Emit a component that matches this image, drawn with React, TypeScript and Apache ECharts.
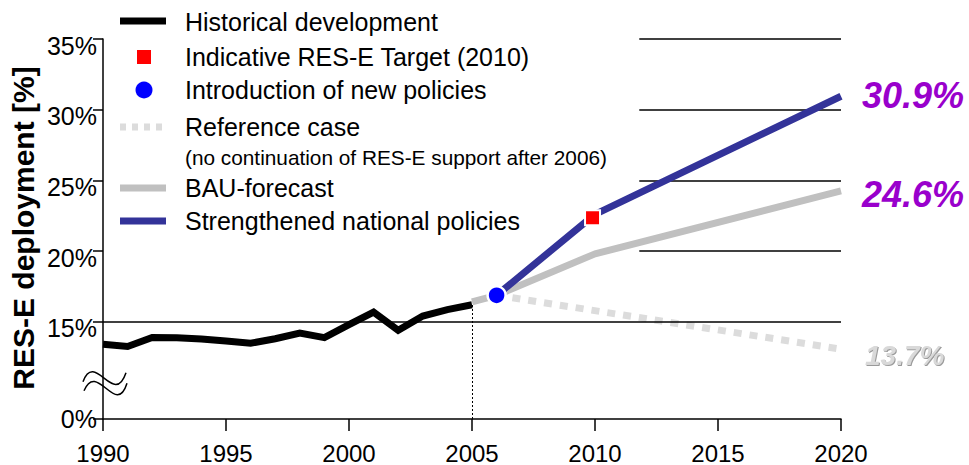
import React, { useEffect, useRef } from "react";
import * as echarts from "echarts";

// y value that sits at the bottom of the (broken) axis and is labelled "0%"
const Y_BREAK_BOTTOM = 8.12;

const histYears = [1990, 1991, 1992, 1993, 1994, 1995, 1996, 1997, 1998, 1999, 2000, 2001, 2002, 2003, 2004, 2005];
const histValues = [13.4, 13.25, 13.88, 13.87, 13.78, 13.64, 13.48, 13.8, 14.2, 13.88, 14.8, 15.68, 14.4, 15.4, 15.86, 16.2];

const bauYears = [2005, 2006, 2010, 2020];
const bauValues = [16.4, 16.87, 19.8, 24.25];

const refYears = [2006, 2020];
const refValues = [16.87, 13.06];

const policyYears = [2006, 2010, 2020];
const policyValues = [16.87, 22.6, 30.95];

const targetPoint = [2009.9, 22.35];
const introPoint = [2006, 16.87];

const yTickValues = [Y_BREAK_BOTTOM, 15, 20, 25, 30, 35];
const upperGridValues = [20, 25, 30, 35];
const upperGridStart = 2011.8;

const endLabels = ["30.9%", "24.6%", "13.7%"];

const FONT = "'Liberation Sans', Arial, sans-serif";

export default function App() {
  const ref = useRef<HTMLDivElement>(null);
  useEffect(() => {
    if (!ref.current) return;
    const chart = echarts.init(ref.current, null, { renderer: "svg" });
    const zip = (xs: number[], ys: number[]) => xs.map((x, i) => [x, ys[i]]);

    const gridMarks: any[] = [
      [{ coord: [1990, 15] }, { coord: [2020, 15] }],
      ...upperGridValues.map((v) => [{ coord: [upperGridStart, v] }, { coord: [2020, v] }]),
      [
        { coord: [2005, Y_BREAK_BOTTOM], lineStyle: { type: [2, 2], width: 1, color: "#000" } },
        { coord: [2005, histValues[histValues.length - 1]] },
      ],
    ];

    const legendX1 = 120;
    const legendX2 = 166;
    const textX = 185;
    const txt = (y: number, s: string, size = 25) => ({
      type: "text",
      x: textX,
      y,
      style: { text: s, fontSize: size, fontFamily: FONT, fill: "#000", verticalAlign: "middle", align: "left" },
    });
    const lline = (y: number, color: string, dash?: number[]) => ({
      type: "line",
      shape: { x1: legendX1, y1: y, x2: legendX2, y2: y },
      style: { stroke: color, lineWidth: 7, lineDash: dash, lineCap: "butt" },
    });

    chart.setOption({
      animation: false,
      grid: { left: 103, right: 128, top: 39, bottom: 43, containLabel: false },
      xAxis: {
        type: "value",
        min: 1990,
        max: 2020,
        interval: 5,
        splitLine: { show: false },
        axisLine: { lineStyle: { color: "#000", width: 1.5 } },
        axisTick: { length: 12, lineStyle: { color: "#000", width: 1.5 } },
        axisLabel: {
          formatter: (v: number) => String(v),
          fontSize: 24,
          color: "#000",
          fontFamily: FONT,
          margin: 22,
        },
      },
      yAxis: {
        type: "value",
        min: Y_BREAK_BOTTOM,
        max: 35,
        splitLine: { show: false },
        axisLine: { show: true, lineStyle: { color: "#000", width: 1.5 } },
        axisTick: { show: true, length: 10, customValues: yTickValues, lineStyle: { color: "#000", width: 1.5 } },
        axisLabel: {
          customValues: yTickValues,
          formatter: (v: number) => (v < 10 ? "{z|0%}" : "{u|" + Math.round(v) + "%}"),
          rich: {
            z: { fontSize: 25, fontFamily: FONT, color: "#000" },
            u: { fontSize: 25, fontFamily: FONT, color: "#000", padding: [13, 0, 0, 0] },
          },
          fontSize: 25,
          color: "#000",
          fontFamily: FONT,
          margin: 6,
        },
      },
      series: [
        {
          type: "line",
          data: [],
          z: 1,
          silent: true,
          markLine: {
            silent: true,
            symbol: ["none", "none"],
            label: { show: false },
            lineStyle: { color: "#000", width: 1.5, type: "solid" },
            data: gridMarks,
          },
        },
        {
          name: "Reference case",
          type: "line",
          data: zip(refYears, refValues),
          symbol: "none",
          z: 2,
          lineStyle: { color: "#dcdcdc", width: 7, type: [8, 8], cap: "butt" },
        },
        {
          name: "BAU-forecast",
          type: "line",
          data: zip(bauYears, bauValues),
          symbol: "none",
          z: 3,
          lineStyle: { color: "#c0c0c0", width: 7 },
        },
        {
          name: "Historical development",
          type: "line",
          data: zip(histYears, histValues),
          symbol: "none",
          z: 4,
          lineStyle: { color: "#000", width: 7, join: "miter" },
        },
        {
          name: "Strengthened national policies",
          type: "line",
          data: zip(policyYears, policyValues),
          symbol: "none",
          z: 5,
          lineStyle: { color: "#333399", width: 7 },
        },
        {
          name: "Indicative RES-E Target (2010)",
          type: "scatter",
          data: [targetPoint],
          symbol: "rect",
          symbolSize: 15,
          z: 6,
          itemStyle: { color: "#ff0000", borderColor: "#fff", borderWidth: 2, opacity: 1 },
        },
        {
          name: "Introduction of new policies",
          type: "scatter",
          data: [introPoint],
          symbol: "circle",
          symbolSize: 18,
          z: 7,
          itemStyle: { color: "#0000ff", borderColor: "#fff", borderWidth: 2.5, opacity: 1 },
        },
      ],
      graphic: [
        {
          type: "text",
          x: 23,
          y: 228,
          rotation: Math.PI / 2,
          style: {
            text: "RES-E deployment [%]",
            fontSize: 30,
            fontWeight: "bold",
            fontFamily: FONT,
            fill: "#000",
            align: "center",
            verticalAlign: "middle",
          },
        },
        {
          type: "bezierCurve",
          shape: { x1: 83, y1: 381.7, cpx1: 95, cpy1: 350, cpx2: 114, cpy2: 408, x2: 126, y2: 372.7 },
          style: { stroke: "#000", lineWidth: 1.5, fill: "none" },
        },
        {
          type: "bezierCurve",
          shape: { x1: 84, y1: 390.7, cpx1: 97, cpy1: 360, cpx2: 116, cpy2: 418, x2: 127, y2: 383.3 },
          style: { stroke: "#000", lineWidth: 1.5, fill: "none" },
        },
        lline(21, "#000"),
        { type: "rect", shape: { x: 137, y: 50, width: 14, height: 14 }, style: { fill: "#ff0000" } },
        { type: "circle", shape: { cx: 144, cy: 90, r: 8.5 }, style: { fill: "#0000ff" } },
        lline(127, "#dcdcdc", [6, 6]),
        lline(188, "#c0c0c0"),
        lline(221, "#333399"),
        txt(22, "Historical development"),
        txt(57, "Indicative RES-E Target (2010)"),
        txt(90, "Introduction of new policies"),
        txt(127, "Reference case"),
        txt(157, "(no continuation of RES-E support after 2006)", 20.8),
        txt(188, "BAU-forecast"),
        txt(221, "Strengthened national policies"),
        {
          type: "text",
          x: 862,
          y: 95,
          style: { text: endLabels[0], fontSize: 36, fontWeight: "bold", fontStyle: "italic", fontFamily: FONT, fill: "#9900cc", verticalAlign: "middle" },
        },
        {
          type: "text",
          x: 862,
          y: 194,
          style: { text: endLabels[1], fontSize: 36, fontWeight: "bold", fontStyle: "italic", fontFamily: FONT, fill: "#9900cc", verticalAlign: "middle" },
        },
        {
          type: "text",
          x: 865,
          y: 355,
          style: {
            text: endLabels[2],
            fontSize: 28,
            fontWeight: "bold",
            fontStyle: "italic",
            fontFamily: FONT,
            fill: "#d9d9d9",
            verticalAlign: "middle",
            textShadowColor: "#9a9a9a",
            textShadowOffsetX: 1,
            textShadowOffsetY: 1,
            textShadowBlur: 1,
          },
        },
      ],
    });
    return () => chart.dispose();
  }, []);
  return <div ref={ref} style={{ width: 969, height: 465, position: "absolute", left: 0, top: 0 }} />;
}
